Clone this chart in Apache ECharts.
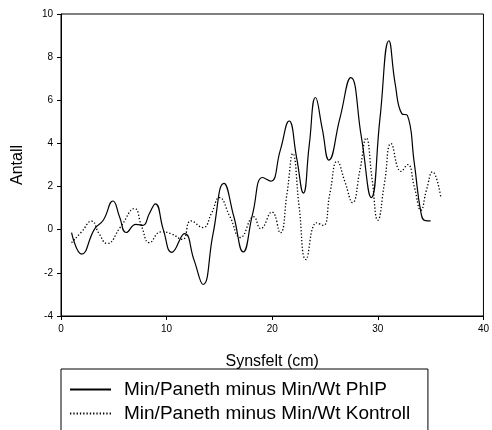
<!DOCTYPE html>
<html>
<head>
<meta charset="utf-8">
<script src="https://cdn.jsdelivr.net/npm/echarts@6/dist/echarts.min.js"></script>
<style>html,body{margin:0;padding:0;background:#fff;}#c{width:492px;height:430px;}</style>
</head>
<body>
<div id="c"></div>
<script>
var phipX = [1.0,1.95,3.2,4.0,4.92,5.55,6.18,7.1,7.75,8.37,8.94,9.7,10.5,11.7,12.6,13.45,14.4,15.43,16.37,17.25,18.15,19.1,19.85,20.76,21.6,22.3,22.95,23.5,24.1,24.74,25.37,26.4,27.44,28.44,29.38,30.2,31.05,31.64,32.27,32.8,33.46,34.1,34.5,35.0];
var phipY = [-0.13,-1.13,0.05,0.44,1.33,0.59,-0.13,0.25,0.2,0.75,1.2,-0.02,-1.05,-0.18,-1.41,-2.54,-0.18,2.15,0.6,-1.03,0.75,2.42,2.25,3.68,5.04,3.37,1.7,3.9,6.13,4.68,3.23,5.15,7.05,4.3,1.49,5.15,8.76,6.77,5.38,5.3,3.06,0.75,0.42,0.41];
var kontrollX = [1.0,1.95,2.9,3.6,4.36,5.64,6.96,7.65,8.37,9.47,10.4,11.5,12.3,13.45,14.24,15.0,16.0,17.0,18.25,18.9,19.97,20.76,21.4,21.95,22.55,23.2,24.2,24.84,25.46,26.15,26.9,27.6,28.3,28.9,29.45,30.0,30.64,31.26,32.2,32.83,33.46,34.08,34.6,35.18,35.96];
var kontrollY = [-0.6,-0.1,0.4,-0.18,-0.64,0.13,0.98,0.13,-0.6,-0.1,-0.18,-0.45,0.41,0.1,0.75,1.49,0.6,-0.36,0.6,0.05,0.82,-0.15,1.68,3.53,1.06,-1.38,0.32,0.2,1.68,3.17,2.2,1.26,2.75,4.25,2.37,0.44,2.2,3.99,2.7,3.02,1.98,0.9,1.83,2.68,1.52];
var seriesNames = ['Min/Paneth minus Min/Wt PhIP', 'Min/Paneth minus Min/Wt Kontroll'];
var xTicks = [0, 10, 20, 30, 40];
var yTicks = [-4, -2, 0, 2, 4, 6, 8, 10];

function pairs(xs, ys) { return xs.map(function (x, i) { return [x, ys[i]]; }); }

var font = 'Liberation Sans, Arial, sans-serif';
var legendCommon = {
  orient: 'vertical', left: 61, itemWidth: 41, itemHeight: 14, itemGap: 4, itemTextGap: 14,
  textStyle: {fontFamily: font, fontSize: 19, color: '#000', padding: [0, 0, 0, 8]},
  itemStyle: {opacity: 0, borderWidth: 0},
  selectedMode: false
};
var chart = echarts.init(document.getElementById('c'), null, {renderer: 'canvas'});
chart.setOption({
  animation: false,
  backgroundColor: '#fff',
  grid: {left: 61, right: 6, top: 14, bottom: 114, show: true, borderColor: '#000', borderWidth: 1, backgroundColor: 'transparent'},
  xAxis: {
    type: 'value', min: xTicks[0], max: xTicks[xTicks.length - 1], interval: 10,
    name: 'Synsfelt (cm)', nameLocation: 'middle', nameGap: 38,
    nameTextStyle: {fontFamily: font, fontSize: 16, color: '#000'},
    axisLine: {onZero: false, lineStyle: {color: '#000', width: 1}},
    axisTick: {show: true, inside: false, length: 4, lineStyle: {color: '#000'}},
    axisLabel: {fontFamily: font, fontSize: 10, color: '#000', margin: 8},
    splitLine: {show: false}
  },
  yAxis: {
    type: 'value', min: yTicks[0], max: yTicks[yTicks.length - 1], interval: 2,
    name: 'Antall', nameLocation: 'middle', nameGap: 35, nameRotate: 90,
    nameTextStyle: {fontFamily: font, fontSize: 16, color: '#000'},
    axisLine: {show: true, onZero: false, lineStyle: {color: '#000', width: 1}},
    axisTick: {show: true, inside: false, length: 4, lineStyle: {color: '#000'}},
    axisLabel: {fontFamily: font, fontSize: 10, color: '#000', margin: 8},
    splitLine: {show: false}
  },
  legend: [
    Object.assign({}, legendCommon, {
      top: 369, padding: [11, 41, 40, 8],
      borderColor: '#000', borderWidth: 1, backgroundColor: '#fff',
      data: [seriesNames[0]]
    }),
    Object.assign({}, legendCommon, {
      top: 404, padding: [0, 0, 0, 8],
      data: [seriesNames[1]]
    })
  ],
  series: [
    {name: seriesNames[0], type: 'line', data: pairs(phipX, phipY), smooth: 0.5, symbol: 'none', showSymbol: false,
     lineStyle: {color: '#000', width: 1.2, type: 'solid'}, itemStyle: {color: '#000'}},
    {name: seriesNames[1], type: 'line', data: pairs(kontrollX, kontrollY), smooth: 0.5, symbol: 'none', showSymbol: false,
     lineStyle: {color: '#000', width: 1.3, type: [1.3, 2]}, itemStyle: {color: '#000'}}
  ]
});
</script>
</body>
</html>
